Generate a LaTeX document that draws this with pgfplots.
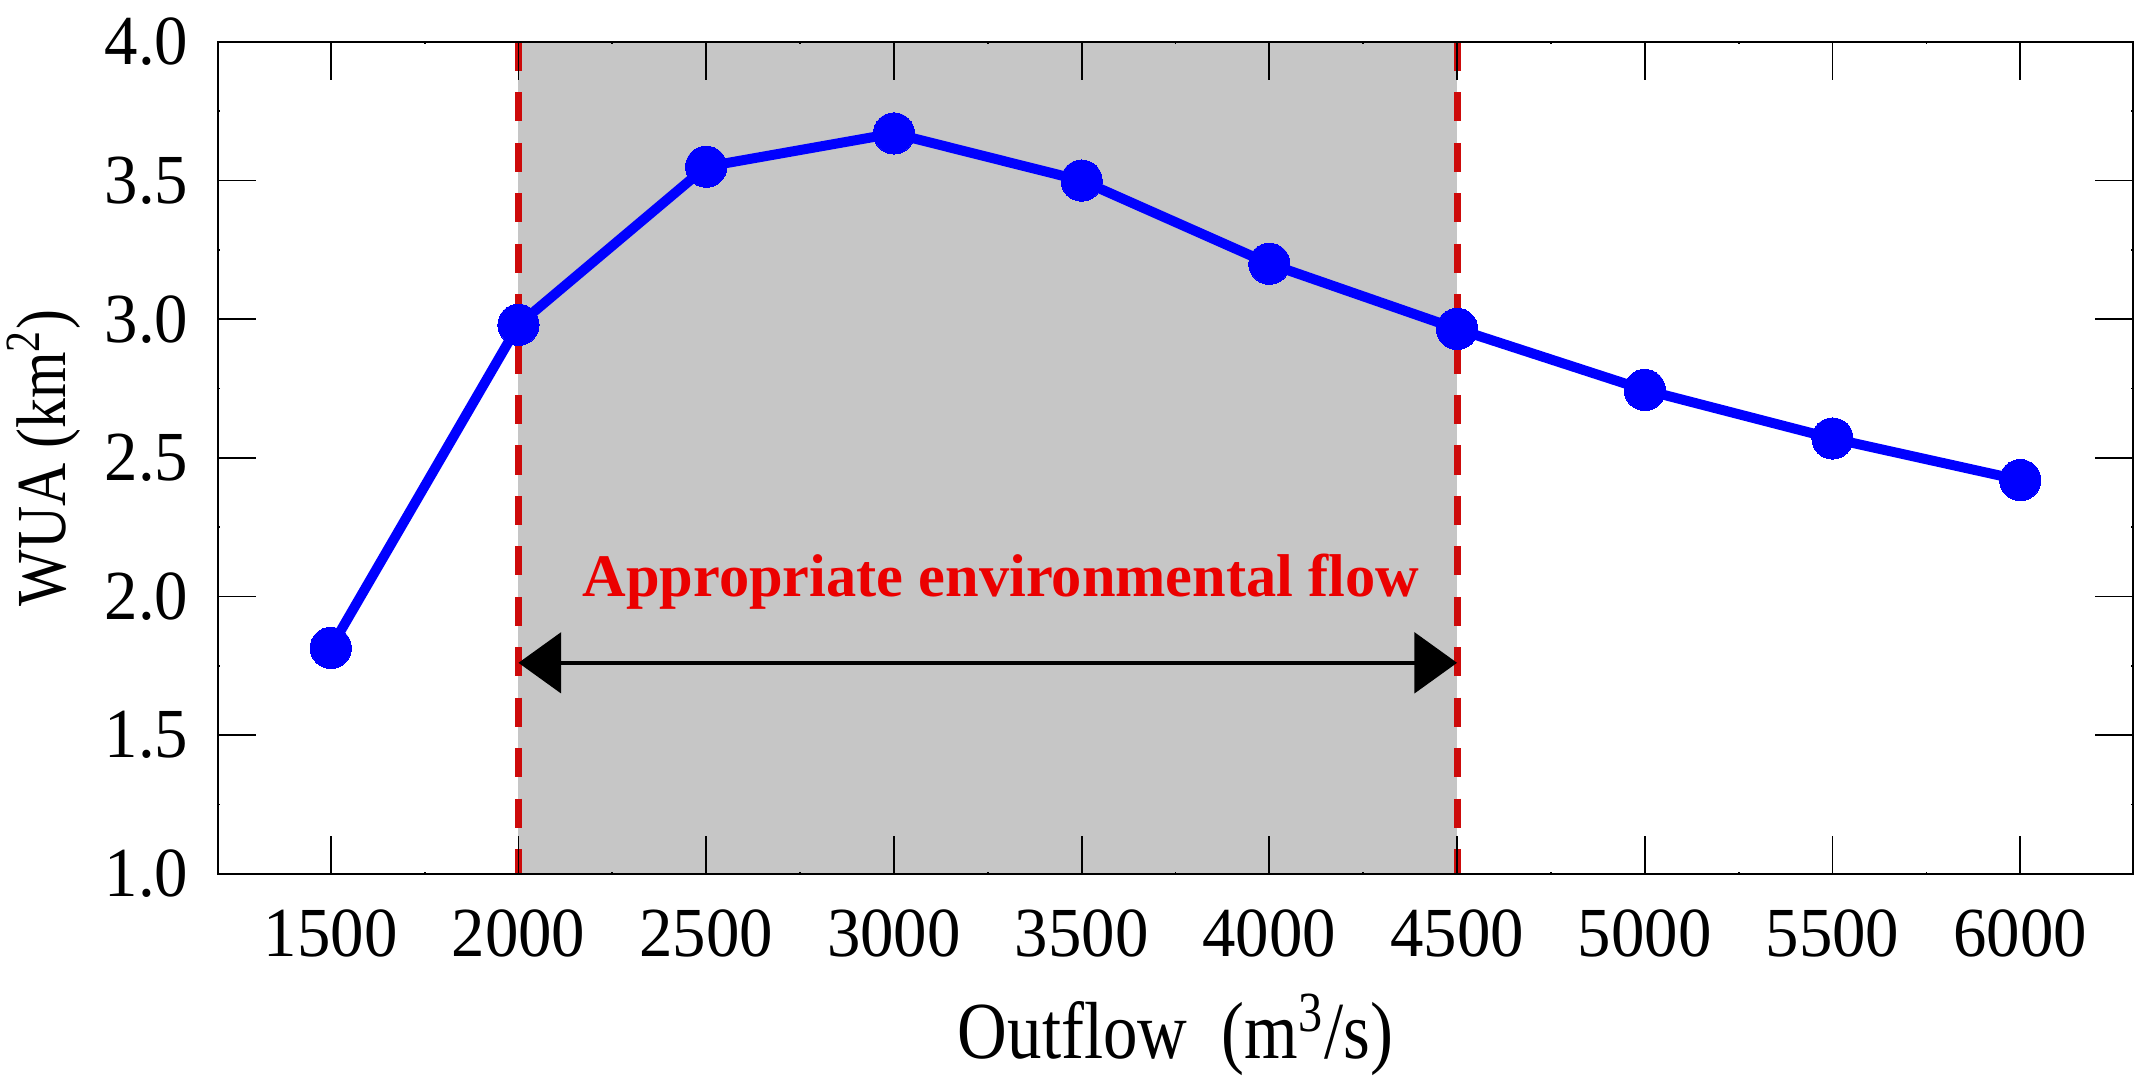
\documentclass[border=0pt]{standalone}
\usepackage{fontspec}
\setmainfont{Liberation Serif}
\newfontfamily\labfont{Liberation Serif}[FakeStretch=0.85]
\newfontfamily\tickfont{Liberation Serif}[FakeStretch=0.95]
\usepackage{pgfplots}
\pgfplotsset{compat=1.18}
\usetikzlibrary{arrows.meta}
\definecolor{shade}{RGB}{198,198,198}
\definecolor{dred}{RGB}{205,10,10}
\definecolor{tred}{RGB}{235,0,0}
\begin{document}
\begin{tikzpicture}
\begin{axis}[
  scale only axis,
  width=539pt, height=234.2pt,
  xmin=1200, xmax=6300, ymin=1, ymax=4,
  xtick={1500,2000,...,6000},
  ytick={1,1.5,...,4},
  minor x tick num=1, minor y tick num=1,
  tick align=inside,
  major tick length=10.8pt,
  minor tick length=0.6pt,
  axis line style={line width=0.6pt},
  every tick/.style={black, line width=0.5pt},
  axis on top,
  /pgf/number format/assume math mode=true,
  xticklabel style={/pgf/number format/set thousands separator={}, font=\tickfont\fontsize{19.8}{22}\selectfont, inner sep=0pt, yshift=-10pt},
  yticklabel style={/pgf/number format/fixed, /pgf/number format/fixed zerofill, /pgf/number format/precision=1, font=\tickfont\fontsize{19.8}{22}\selectfont, inner sep=0pt, xshift=-8.2pt},
  xlabel={Outflow\ \ (m\textsuperscript{3}/s)},
  ylabel={WUA (km\textsuperscript{2})},
  xlabel style={font=\labfont\fontsize{22.8}{26}\selectfont, at={(axis description cs:0.5,-0.222)}, anchor=base, inner sep=0pt},
  ylabel style={font=\labfont\fontsize{19.8}{23}\selectfont, at={(axis description cs:-0.0795,0.5)}, anchor=base, inner sep=0pt},
  clip=false,
]
\addplot[draw=none, fill=shade] coordinates {(2000,1) (4500,1) (4500,4) (2000,4)} -- cycle;
\addplot[dred, line width=2pt, dash pattern=on 8.2pt off 6pt] coordinates {(2000,4) (2000,1)};
\addplot[dred, line width=2pt, dash pattern=on 8.2pt off 6pt] coordinates {(4500,4) (4500,1)};
\addplot[black, line width=1.1pt, {Triangle[length=12pt,width=17pt]}-{Triangle[length=12pt,width=17pt]}] coordinates {(2000,1.761) (4500,1.761)};
\node[font=\fontsize{17}{20}\selectfont\bfseries, text=tred, anchor=base, inner sep=0pt] at (axis cs:3285,2.0) {Appropriate environmental flow};
\addplot[blue, line width=2.8pt, mark=*, mark size=5.8pt, mark options={solid, fill=blue, draw=blue, line width=0pt}] coordinates {
(1500,1.815) (2000,2.98) (2500,3.55) (3000,3.67) (3500,3.50) (4000,3.20) (4500,2.965) (5000,2.745) (5500,2.57) (6000,2.42)};
\end{axis}
\pgfresetboundingbox
\path[use as bounding box] ([shift={(-61.4pt,-57.4pt)}]current axis.south west) rectangle ([shift={(0.6pt,11.8pt)}]current axis.north east);
\end{tikzpicture}
\end{document}
